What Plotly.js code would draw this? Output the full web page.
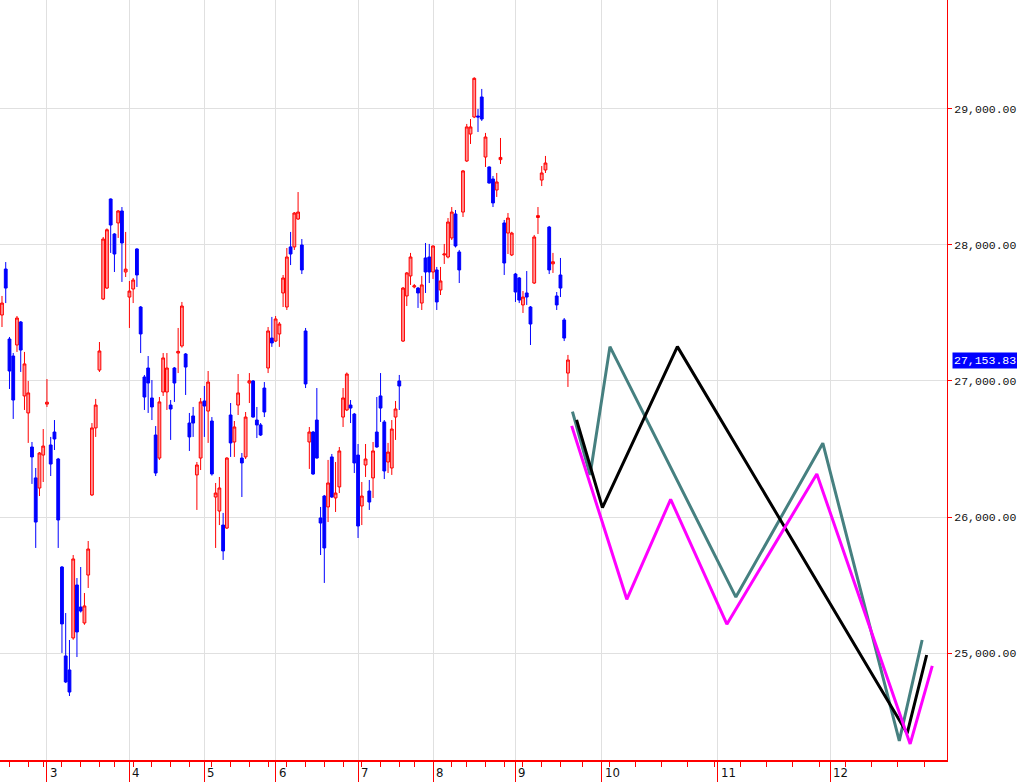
<!DOCTYPE html>
<html><head><meta charset="utf-8">
<script src="https://cdn.plot.ly/plotly-3.0.1.min.js"></script>
<style>html,body{margin:0;padding:0;background:#fff;overflow:hidden}#chart{width:1017px;height:782px}</style>
</head><body><div id="chart"></div>
<script>
// Daily candles (trading-day index 1..152), Feb 9 – Sep 22
const openPrice = [27484,27822,27308,27183,27264,27433,26890,26765,26515,26288,26214,26456,26830,26530,26625,26427,25634,24981,24878,25113,25502,25340,25223,25575,26163,26655,27080,27602,27682,28336,28079,28160,28248,27800,27616,27675,27969,27543,27029,27095,26875,26603,26434,26919,26919,26823,27095,27205,27257,27198,26691,26743,26310,26434,26853,26779,26706,26148,26045,25942,25920,26750,26552,26823,26434,26442,26985,27000,26713,26677,26948,27095,27315,27293,27345,27646,27543,27984,27984,28189,27998,27367,26552,26625,26713,25994,26155,26075,26442,26141,26222,26735,26787,26823,26757,26456,26082,26383,26192,26288,26625,26890,26699,26405,26361,26735,27000,27293,27624,27771,27690,27682,27572,27903,27910,27800,27815,27668,27925,27910,28050,28226,27947,28240,28615,28813,28938,28945,29085,28644,28571,28483,28402,28625,28160,28086,27925,27785,27756,27558,27646,27543,27719,28200,28475,28549,28130,27860,27624,27778,27448,27058];
const highPrice = [27624,27873,27323,27205,27477,27440,27213,27000,26552,26361,26478,26647,27014,26589,26713,26435,25641,25296,25098,25722,25553,25634,25443,25825,26691,26868,27286,28057,28120,28340,28085,28255,28277,28094,27734,27756,27975,27550,27044,27183,27007,26669,26882,27205,27205,26860,27102,27389,27580,27205,26765,26809,26405,26875,26963,27073,26735,26251,26295,26031,26440,26838,26706,27051,26471,26772,27058,27007,26809,26691,26992,27396,27470,27477,27433,27778,27976,28094,28240,28387,28042,27389,26662,26633,26948,26075,26163,26420,26464,26405,26515,26948,27062,26860,26765,26537,26258,26537,26273,26552,26882,27058,26713,26545,26713,26853,27044,27690,27800,27940,27712,27690,27771,28013,28006,27995,27837,27837,28006,28196,28277,28255,27962,28549,28887,28923,29230,28997,29144,28821,28575,28505,28527,28784,28182,28233,28095,27793,27763,27660,27807,27550,28072,28277,28578,28652,28138,27940,27653,27903,27462,27191];
const lowPrice = [27396,27572,26941,26721,27213,27066,26787,26545,26244,25774,26155,26258,26809,26302,26493,25774,25003,24782,24687,25100,24973,25300,25210,25480,26155,26589,27066,27594,27675,27940,27800,28050,27727,27763,27389,27572,27690,27205,26787,26765,26713,26302,26420,26890,26787,26567,26846,27058,27245,26897,26486,26589,26053,26346,26589,26545,26305,25774,25942,25686,25913,26442,26442,26750,26148,26427,26838,26730,26581,26596,26735,27058,27250,27286,27250,27543,27521,27851,27962,28182,27785,26948,26354,26310,26430,25722,25517,25964,26141,26038,26177,26662,26779,26691,26324,25847,25942,26295,26053,26141,26510,26699,26280,26324,26310,26567,26787,27286,27550,27705,27680,27536,27521,27646,27719,27749,27521,27631,27859,27900,28035,27980,27719,28204,28608,28740,28930,28828,28909,28571,28450,28277,28351,28593,27778,27932,27917,27580,27572,27499,27558,27264,27712,28079,28431,28527,27785,27793,27521,27616,27293,26956];
const closePrice = [27572,27682,27073,26860,27462,27227,27125,26912,26442,25964,26471,26522,26844,26390,26574,25979,25216,24790,24716,25693,25157,25311,25348,25766,26655,26823,27220,28042,28110,28145,27932,28248,28013,27821,27660,27741,27778,27345,26882,26985,26809,26324,26846,27169,27095,26794,26985,27217,27550,27102,26589,26691,26383,26846,26816,26992,26317,26177,26214,25752,26434,26545,26662,26912,26398,26735,27001,26735,26677,26603,26772,27367,27279,27455,27418,27756,27910,27932,28233,28240,27815,26978,26625,26317,26434,25957,25774,26251,26148,26177,26486,26875,27051,26801,26398,25935,26155,26427,26111,26486,26515,26801,26339,26478,26647,26794,26963,27682,27793,27910,27699,27646,27705,27800,27800,27991,27580,27734,27932,28167,28240,27991,27815,28542,28865,28865,29222,28938,28923,28791,28453,28307,28461,28641,27866,28196,28086,27653,27594,27616,27616,27418,28057,28214,28527,28600,27815,27875,27558,27682,27315,27153.83];

// Projection lines (day index, value)
const tealDays   = [153.2, 157.9, 163.2, 196.8, 220.0, 240.4, 246.5];
const tealValues = [26775, 26310, 27252, 25413, 26543, 24357, 25098];
const blackDays   = [154.3, 161.2, 181.2, 242.5, 247.7];
const blackValues = [26714, 26070, 27252, 24413, 24988];
const magentaDays   = [153.0, 167.7, 179.4, 194.4, 218.4, 243.3, 249.2];
const magentaValues = [26670, 25397, 26131, 25214, 26317, 24335, 24908];

// Axis ticks
const monthTickDays = [13, 35, 55, 74, 96, 116, 138, 161, 192, 222];
const monthLabels = ['3', '4', '5', '6', '7', '8', '9', '10', '11', '12'];
const weekTickDays = [3, 8, 12, 17, 22, 27, 31, 36, 41, 46, 51, 57, 62, 67, 72, 77, 82, 87, 92, 97, 102, 107, 111, 121, 125, 130, 135, 140, 145, 150, 156, 163, 170, 177, 184, 191, 198, 205, 212, 219, 226, 233, 240, 247];
const priceTicks = [25000, 26000, 27000, 28000, 29000];

const day = openPrice.map((_, i) => i + 1);
const lastClose = closePrice[closePrice.length - 1];

const traces = [
  {
    type: 'candlestick', x: day,
    open: openPrice, high: highPrice, low: lowPrice, close: closePrice,
    increasing: {line: {color: '#ff0000', width: 1}, fillcolor: 'rgba(255,60,60,0.55)'},
    decreasing: {line: {color: '#0000ff', width: 1}, fillcolor: '#0000ff'},
    whiskerwidth: 0, hoverinfo: 'skip'
  },
  {type: 'scatter', mode: 'lines', x: tealDays, y: tealValues, line: {color: '#468080', width: 3}, hoverinfo: 'skip'},
  {type: 'scatter', mode: 'lines', x: blackDays, y: blackValues, line: {color: '#000000', width: 3}, hoverinfo: 'skip'},
  {type: 'scatter', mode: 'lines', x: magentaDays, y: magentaValues, line: {color: '#ff00ff', width: 3}, hoverinfo: 'skip'}
];

const annotations = monthTickDays.map((d, i) => ({
  xref: 'x', yref: 'paper', x: d, y: 0, xanchor: 'left', yanchor: 'top',
  xshift: 1, yshift: -3, showarrow: false, text: monthLabels[i],
  font: {family: 'Liberation Sans Narrow, DejaVu Sans Condensed, sans-serif', size: 13, color: '#111'}
}));
annotations.push({
  xref: 'paper', yref: 'y', x: 1, y: lastClose, xanchor: 'left', yanchor: 'middle',
  xshift: 5, showarrow: false,
  text: lastClose.toLocaleString('en-US', {minimumFractionDigits: 2, maximumFractionDigits: 2}),
  bgcolor: '#0000ff', borderpad: 1,
  font: {family: 'Liberation Mono, DejaVu Sans Mono, monospace', size: 11.5, color: '#ffffff'}
});

const layout = {
  width: 1017, height: 782,
  margin: {l: 0, r: 70, t: 0, b: 22, pad: 0},
  paper_bgcolor: '#ffffff', plot_bgcolor: '#ffffff',
  showlegend: false, hovermode: false,
  boxgap: 0.25, boxgroupgap: 0,
  xaxis: {
    range: [0.47, 253.13], rangeslider: {visible: false},
    tickmode: 'array', tickvals: monthTickDays, showticklabels: false,
    ticks: 'outside', ticklen: 22, tickcolor: '#ff0000', tickwidth: 1,
    showgrid: true, gridcolor: '#e0e0e0', gridwidth: 1, zeroline: false,
    showline: true, linecolor: '#ff0000', linewidth: 2,
    minor: {tickmode: 'array', tickvals: weekTickDays, ticks: 'outside', ticklen: 5, tickcolor: '#ff0000', tickwidth: 1, showgrid: false}
  },
  yaxis: {
    side: 'right', range: [24217, 29797],
    tickmode: 'array', tickvals: priceTicks, tickformat: ',.2f',
    ticks: 'outside', ticklen: 4, tickcolor: '#ff0000', tickwidth: 1,
    showline: true, linecolor: '#ff0000', linewidth: 1,
    showgrid: true, gridcolor: '#e0e0e0', gridwidth: 1, zeroline: false,
    tickfont: {family: 'Liberation Mono, DejaVu Sans Mono, monospace', size: 11.5, color: '#111'}
  },
  annotations: annotations
};

Plotly.newPlot('chart', traces, layout, {staticPlot: true, displayModeBar: false});
</script>
</body></html>
